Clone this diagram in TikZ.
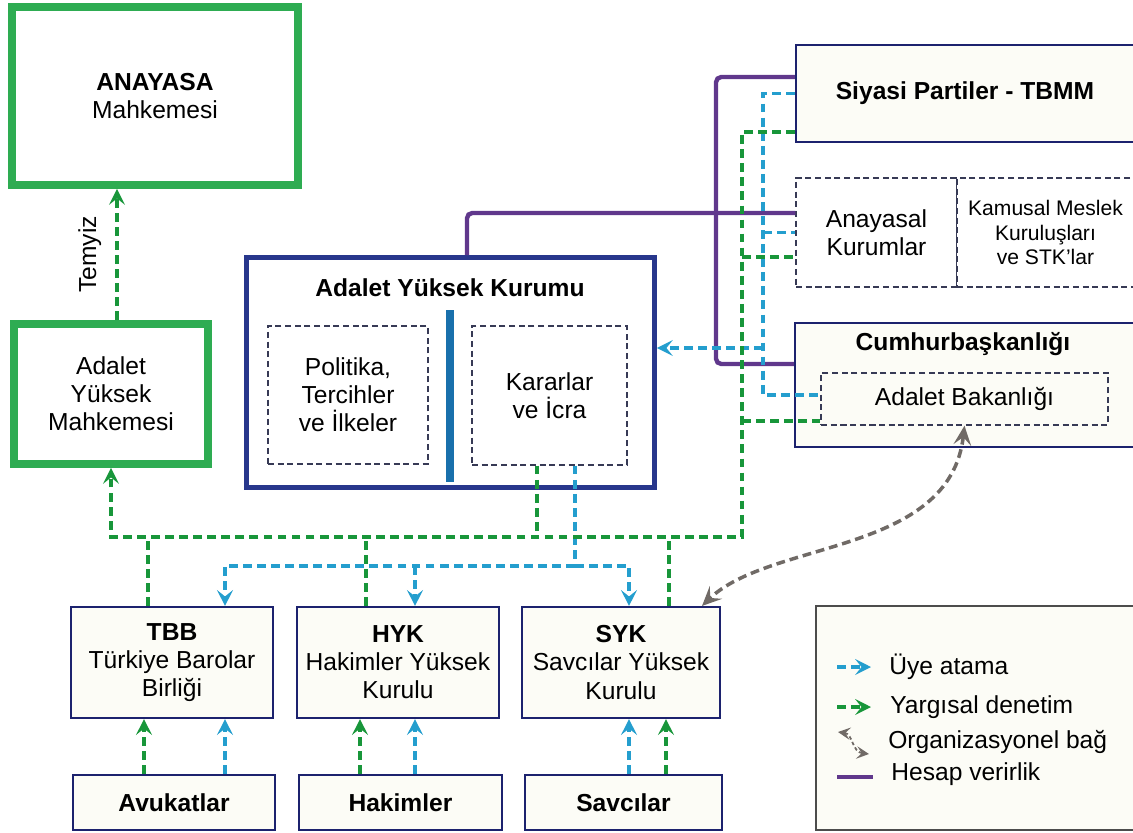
\documentclass[tikz,border=0pt]{standalone}
\usepackage{fontspec}
\setmainfont{Liberation Sans}
\usetikzlibrary{arrows.meta}

\definecolor{uyeblue}{RGB}{36,158,206}
\definecolor{yargigreen}{RGB}{24,150,58}
\definecolor{courtgreen}{RGB}{46,172,82}
\definecolor{boxnavy}{RGB}{28,34,110}
\definecolor{kurumnavy}{RGB}{40,55,140}
\definecolor{hesappurple}{RGB}{96,56,140}
\definecolor{barblue}{RGB}{25,112,172}
\definecolor{orggray}{RGB}{112,106,102}
\definecolor{dashgray}{RGB}{55,58,85}
\definecolor{boxfill}{RGB}{252,252,246}

\tikzset{
  every node/.style={font=\fontsize{14}{16}\selectfont, align=center, inner sep=0pt},
  court/.style={draw=courtgreen, line width=4.5pt, fill=white},
  kurum/.style={draw=kurumnavy, line width=2.8pt, fill=white},
  unit/.style={draw=boxnavy, line width=1.2pt, fill=boxfill},
  part/.style={draw=dashgray, line width=0.8pt, dash pattern=on 3.5pt off 2pt},
  uye/.style={draw=uyeblue, line width=2pt, dash pattern=on 5pt off 3pt},
  yargi/.style={draw=yargigreen, line width=2pt, dash pattern=on 5pt off 3pt},
  hesap/.style={draw=hesappurple, line width=2.5pt, rounded corners=3pt},
  org/.style={draw=orggray, line width=2pt, dash pattern=on 5pt off 2.8pt,
    {Stealth[length=11pt,width=10pt,inset=4.5pt]}-{Stealth[length=11pt,width=10pt,inset=4.5pt]}},
  >={Stealth[length=9pt,width=9pt,inset=3.6pt]}
}

\begin{document}
\begin{tikzpicture}[x=0.02cm, y=-0.02cm]
  \useasboundingbox (0,0) rectangle (1133,832);

  % Courts
  \node[court, minimum width=5.72cm, minimum height=3.56cm] (aym) at (155,96) {\textbf{ANAYASA}\\Mahkemesi};
  \node[court, minimum width=3.88cm, minimum height=2.8cm] (aymh) at (111,394) {Adalet\\Yüksek\\Mahkemesi};

  % Adalet Yuksek Kurumu
  \node[kurum, minimum width=8.16cm, minimum height=4.6cm] (ayk) at (450.5,372.5) {};
  \node (aykt) at (450,288) {\textbf{Adalet Yüksek Kurumu}};
  \node[part, minimum width=3.2cm, minimum height=2.76cm] (pol) at (348,395) {Politika,\\Tercihler\\ve İlkeler};
  \node[part, minimum width=3.1cm, minimum height=2.78cm] (kar) at (549.5,395.5) {Kararlar\\ve İcra};
  \fill[barblue] (446,310) rectangle (454,482);

  % Right column
  \node[unit, minimum width=6.76cm, minimum height=1.94cm] (sp) at (965,93.5) {\textbf{Siyasi Partiler - TBMM}};
  \node[part, fill=white, minimum width=3.22cm, minimum height=2.18cm] (ak) at (876.5,232.5) {Anayasal\\Kurumlar};
  \node[part, fill=white, minimum width=3.54cm, minimum height=2.18cm,
        font=\fontsize{12}{14}\selectfont] (km) at (1045.5,232.5) {Kamusal Meslek\\Kuruluşları\\ve STK’lar};
  \draw[dashgray, line width=0.8pt] (km.north west) -- (km.south west);
  \node[unit, minimum width=6.78cm, minimum height=2.48cm] (cb) at (964.5,385) {};
  \node (cbt) at (963,344) {\textbf{Cumhurbaşkanlığı}};
  \node[part, minimum width=5.74cm, minimum height=1.04cm] (ab) at (964.5,399) {Adalet Bakanlığı};

  % Councils
  \node[unit, minimum width=4.04cm, minimum height=2.22cm] (tbb) at (172,662.5) {\textbf{TBB}\\Türkiye Barolar\\Birliği};
  \node[unit, minimum width=4.04cm, minimum height=2.22cm] (hyk) at (398,662.5) {\textbf{HYK}\\Hakimler Yüksek\\Kurulu};
  \node[unit, minimum width=3.96cm, minimum height=2.22cm] (syk) at (621,662.5) {\textbf{SYK}\\Savcılar Yüksek\\Kurulu};

  % Members
  \node[unit, minimum width=4.04cm, minimum height=1.1cm] (avk) at (174,802.5) {\textbf{Avukatlar}};
  \node[unit, minimum width=4.06cm, minimum height=1.1cm] (hak) at (400.5,802.5) {\textbf{Hakimler}};
  \node[unit, minimum width=3.94cm, minimum height=1.1cm] (sav) at (623.5,802.5) {\textbf{Savcılar}};

  % Accountability
  \coordinate (px) at (716,213);
  \draw[hesap] ([xshift=0.33cm]ayk.north) |- (ak.west |- px);
  \draw[hesap] (sp.west |- 0,77) -| (px) |- (cb.west |- 0,364);

  % Appointment
  \coordinate (bx) at (763,348);
  \draw[uye] (sp.west) -| (bx) |- (ab.west |- 0,395);
  \draw[uye] (bx |- ak.west) -- (ak.west);
  \draw[uye,->] (bx) -- (bx -| ayk.east);
  \coordinate (bh) at (575,566);
  \draw[uye] (575,0 |- kar.south) -- (bh);
  \draw[uye,->] (bh) -| (225,0 |- tbb.north);
  \draw[uye,->] (bh) -| (629,0 |- syk.north);
  \draw[uye,->] (415,0 |- bh) -- (415,0 |- hyk.north);

  % Judicial review
  \coordinate (gx) at (742,537);
  \draw[yargi,->] (sp.west |- 0,132) -| (gx) -| (aymh.south);
  \draw[yargi] (gx |- 0,257) -- (ak.west |- 0,257);
  \draw[yargi] (gx |- 0,421) -- (ab.west |- 0,421);
  \draw[yargi] (537,0 |- kar.south) -- (537,0 |- gx);
  \draw[yargi] (148,0 |- tbb.north) -- (148,0 |- gx);
  \draw[yargi] (366,0 |- hyk.north) -- (366,0 |- gx);
  \draw[yargi] (669,0 |- syk.north) -- (669,0 |- gx);
  \draw[yargi,->] (117,0 |- aymh.north) -- (117,0 |- aym.south)
    node[midway, sloped, above=8pt] {Temyiz};

  % Members to councils
  \draw[yargi,->] (144,0 |- avk.north) -- (144,0 |- tbb.south);
  \draw[uye,->] (225,0 |- avk.north) -- (225,0 |- tbb.south);
  \draw[yargi,->] (360,0 |- hak.north) -- (360,0 |- hyk.south);
  \draw[uye,->] (415,0 |- hak.north) -- (415,0 |- hyk.south);
  \draw[uye,->] (629,0 |- sav.north) -- (629,0 |- syk.south);
  \draw[yargi,->] (666,0 |- sav.north) -- (666,0 |- syk.south);

  % Organizational link
  \draw[org] (ab.south) .. controls (950,555) and (770,540) .. (702,0 |- syk.north);

  % Legend
  \node[draw=black!70, line width=0.8pt, fill=boxfill, minimum width=6.48cm, minimum height=4.48cm] (leg) at (978,718) {};
  \draw[uye,->] (837,667) -- (871,667);
  \node[anchor=west] (l1) at (889,667) {Üye atama};
  \draw[yargi,->] (837,707) -- (871,707);
  \node[anchor=west] (l2) at (890,707) {Yargısal denetim};
  \draw[orggray, line width=1pt, dash pattern=on 2pt off 1.5pt,
        {Stealth[length=7pt,width=7pt,inset=2.8pt]}-{Stealth[length=7pt,width=7pt,inset=2.8pt]}]
        (838,732) .. controls (853,734) and (852,752) .. (869,754);
  \node[anchor=west] (l3) at (888,742) {Organizasyonel bağ};
  \draw[hesappurple, line width=2.6pt] (837,777) -- (873,777);
  \node[anchor=west] (l4) at (891,774) {Hesap verirlik};

\end{tikzpicture}
\end{document}
